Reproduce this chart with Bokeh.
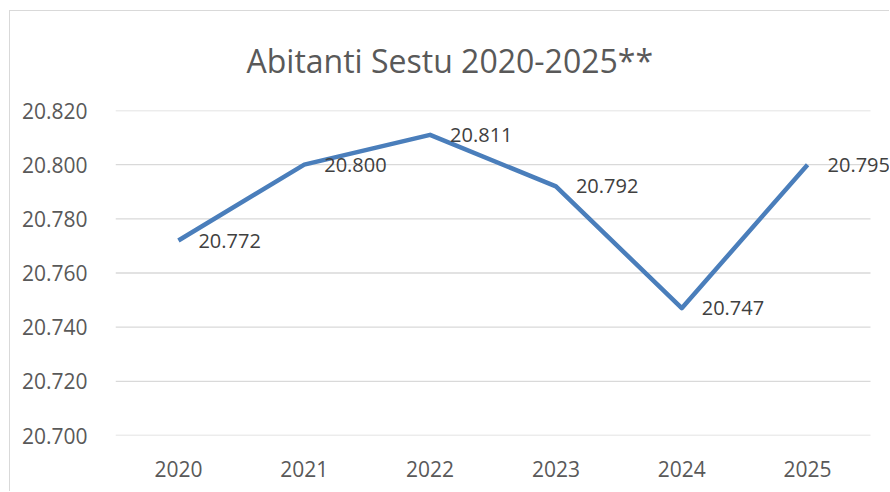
from bokeh.plotting import figure
from bokeh.models import Range1d, ColumnDataSource, LabelSet, FixedTicker
from bokeh.core.properties import value
from bokeh.embed import file_html
from bokeh.resources import INLINE

years = ["2020", "2021", "2022", "2023", "2024", "2025"]
abitanti = [20772, 20800, 20811, 20792, 20747, 20800]
data_labels = ["20.772", "20.800", "20.811", "20.792", "20.747", "20.795"]
y_ticks = [20700, 20720, 20740, 20760, 20780, 20800, 20820]
y_tick_labels = ["20.700", "20.720", "20.740", "20.760", "20.780", "20.800", "20.820"]
title_text = "Abitanti Sestu 2020-2025**"

FONT = "Open Sans"
xpos = list(range(len(years)))
x_end = len(years) - 0.5

p = figure(width=880, height=481, output_backend="svg", toolbar_location=None,
           x_range=Range1d(-0.5, x_end + 0.159), y_range=Range1d(y_ticks[0], y_ticks[-1]),
           min_border_left=105, min_border_right=0, min_border_top=98, min_border_bottom=57)
p.outline_line_color = None
p.background_fill_color = "white"
p.border_fill_color = "white"
p.styles = {"margin-left": "9px", "margin-top": "10px",
            "border-left": "1px solid #d9d9d9", "border-top": "1px solid #d9d9d9"}

p.title.text = title_text
p.title.align = "left"
p.title.offset = 131
p.title.standoff = 54
p.title.vertical_align = "top"
p.title.text_font = FONT
p.title.text_font_size = "32px"
p.title.text_font_style = "normal"
p.title.text_color = "#595959"

p.xgrid.grid_line_color = None
p.ygrid.grid_line_color = None
p.segment(x0=[-0.5] * len(y_ticks), x1=[x_end] * len(y_ticks), y0=y_ticks, y1=y_ticks,
          line_color="#d9d9d9", line_width=1.3)

p.yaxis.ticker = FixedTicker(ticks=y_ticks)
p.yaxis.major_label_overrides = {t: l for t, l in zip(y_ticks, y_tick_labels)}
p.xaxis.ticker = FixedTicker(ticks=xpos)
p.xaxis.major_label_overrides = {i: y for i, y in zip(xpos, years)}
for ax in (p.xaxis, p.yaxis):
    ax.axis_line_color = None
    ax.major_tick_line_color = None
    ax.minor_tick_line_color = None
    ax.major_label_text_font = FONT
    ax.major_label_text_font_size = "21px"
    ax.major_label_text_color = "#595959"
p.yaxis.major_label_standoff = 22
p.xaxis.major_label_standoff = 19

src = ColumnDataSource(dict(x=xpos, y=abitanti, lab=data_labels))
p.line("x", "y", source=src, line_color="#4a7ebb", line_width=4.5, line_join="round")

labels = LabelSet(x="x", y="y", text="lab", source=src, x_offset=20, y_offset=0,
                  text_font=value(FONT), text_font_size=value("20px"), text_color="#404040",
                  text_baseline="middle", text_align="left")
p.add_layout(labels)

open("out.html", "w").write(file_html(p, INLINE))
